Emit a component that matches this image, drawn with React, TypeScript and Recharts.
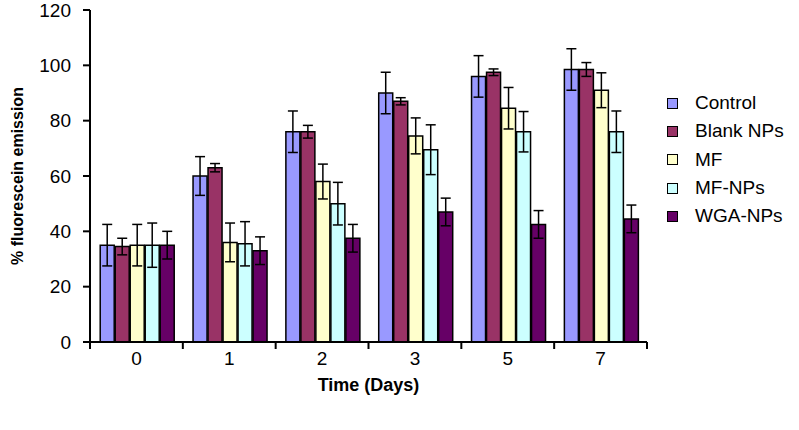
import { Bar, BarChart, ErrorBar, Legend, XAxis, YAxis } from 'recharts';

const days = ['0', '1', '2', '3', '5', '7'];
const seriesNames = ['Control', 'Blank NPs', 'MF', 'MF-NPs', 'WGA-NPs'];

const control = [35, 60, 76, 90, 96, 98.5];
const controlErr = [7.5, 7, 7.5, 7.5, 7.5, 7.5];
const blankNps = [34.5, 63, 76, 87, 97.5, 98.5];
const blankNpsErr = [3, 1.5, 2.3, 1.3, 1.2, 2.5];
const mf = [35, 36, 58, 74.5, 84.5, 91];
const mfErr = [7.5, 7, 6.3, 6.5, 7.5, 6.3];
const mfNps = [35, 35.5, 50, 69.5, 76, 76];
const mfNpsErr = [8, 8, 7.7, 9, 7.3, 7.5];
const wgaNps = [35, 33, 37.5, 47, 42.5, 44.5];
const wgaNpsErr = [5, 5, 5, 5, 5, 5];

const yTicks = [0, 20, 40, 60, 80, 100, 120];

const colors = ['#9999ff', '#993366', '#ffffcc', '#ccffff', '#660066'];
const FONT = '"Liberation Sans", Arial, sans-serif';

const data = days.map((day, i) => ({
  day,
  control: control[i],
  controlErr: controlErr[i],
  blankNps: blankNps[i],
  blankNpsErr: blankNpsErr[i],
  mf: mf[i],
  mfErr: mfErr[i],
  mfNps: mfNps[i],
  mfNpsErr: mfNpsErr[i],
  wgaNps: wgaNps[i],
  wgaNpsErr: wgaNpsErr[i],
}));

const keys = ['control', 'blankNps', 'mf', 'mfNps', 'wgaNps'];

const CHART_W = 799;
const CHART_H = 430;
const MARGIN = { top: 10, right: 152, left: 0, bottom: 28 };
const Y_AXIS_W = 90;
const PLOT_W = CHART_W - MARGIN.right - MARGIN.left - Y_AXIS_W;
const BAND = PLOT_W / days.length;

// ticks sit between the day groups, labels in the middle
const DayTick = (props: any) => {
  const { x, y, payload, index } = props;
  const left = x - BAND / 2;
  const right = x + BAND / 2;
  return (
    <g>
      <line x1={left} y1={y} x2={left} y2={y + 7} stroke="#000" strokeWidth={2} />
      {index === days.length - 1 && (
        <line x1={right} y1={y} x2={right} y2={y + 7} stroke="#000" strokeWidth={2} />
      )}
      <text x={x} y={y + 23} textAnchor="middle" fontSize={19} fontFamily={FONT} fill="#000">
        {payload.value}
      </text>
    </g>
  );
};

const SideLegend = () => (
  <div style={{ fontFamily: FONT, fontSize: 19, color: '#000' }}>
    {seriesNames.map((name, i) => (
      <div key={name} style={{ display: 'flex', alignItems: 'center', height: 28.3 }}>
        <span
          style={{
            display: 'inline-block',
            width: 9,
            height: 9,
            background: colors[i],
            border: '1.5px solid #000',
            marginRight: 17,
          }}
        />
        <span>{name}</span>
      </div>
    ))}
  </div>
);

const App = () => {
  return (
    <div style={{ position: 'absolute', left: 0, top: 0, background: '#fff' }}>
      <BarChart
        width={CHART_W}
        height={CHART_H}
        data={data}
        margin={MARGIN}
        barCategoryGap="11%"
        barGap={1}
      >
        <XAxis
          dataKey="day"
          stroke="#000"
          strokeWidth={2}
          tickLine={false}
          tickSize={0}
          tickMargin={0}
          tick={<DayTick />}
          height={60}
          interval={0}
          label={{
            value: 'Time (Days)',
            position: 'insideBottom',
            offset: 11,
            style: { fontFamily: FONT, fontSize: 18, fontWeight: 'bold', fill: '#000' },
          }}
        />
        <YAxis
          width={Y_AXIS_W}
          domain={[0, 120]}
          ticks={yTicks}
          interval={0}
          stroke="#000"
          strokeWidth={2}
          tickSize={7}
          tickMargin={12}
          tick={{ fontFamily: FONT, fontSize: 19, fill: '#000' }}
          label={{
            value: '% fluorescein emission',
            angle: -90,
            position: 'center',
            dx: -28,
            style: { fontFamily: FONT, fontSize: 16, fontWeight: 'bold', fill: '#000' },
          }}
        />
        <Legend
          layout="vertical"
          align="center"
          verticalAlign="middle"
          content={<SideLegend />}
          wrapperStyle={{ left: 667, top: 89, width: 132 }}
        />
        {keys.map((key, i) => (
          <Bar
            key={key}
            dataKey={key}
            name={seriesNames[i]}
            fill={colors[i]}
            stroke="#000"
            strokeWidth={1.5}
            isAnimationActive={false}
          >
            <ErrorBar dataKey={`${key}Err`} width={5} stroke="#000" strokeWidth={1.5} direction="y" />
          </Bar>
        ))}
      </BarChart>
    </div>
  );
};

export default App;
